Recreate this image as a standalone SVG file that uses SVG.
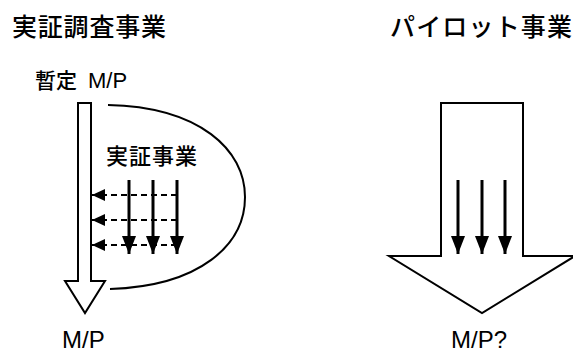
<svg xmlns="http://www.w3.org/2000/svg" width="573" height="352" viewBox="0 0 573 352">
<style>
.t{font-family:"Noto Sans CJK JP","Liberation Sans",sans-serif;fill:#000;font-weight:500}
.l{font-family:"Liberation Sans","Noto Sans CJK JP",sans-serif;fill:#000}
.shape{fill:#fff;stroke:#000;stroke-width:2;stroke-linejoin:miter}
.solid{stroke:#000;stroke-width:3;fill:none}
.dash{stroke:#000;stroke-width:2;stroke-dasharray:6 4;fill:none}
</style>
<defs>
<marker id="hs" markerUnits="userSpaceOnUse" markerWidth="18" markerHeight="14" refX="18" refY="7" orient="auto"><path d="M0,0 L18,7 L0,14 z" fill="#000"/></marker>
<marker id="hd" markerUnits="userSpaceOnUse" markerWidth="13" markerHeight="12" refX="13" refY="6" orient="auto"><path d="M0,0 L13,6 L0,12 z" fill="#000"/></marker>
</defs>
<g id="title-left"><text class="t" x="12" y="36" font-size="25" textLength="154" lengthAdjust="spacing">実証調査事業</text></g>
<g id="title-right"><text class="t" x="390" y="36" font-size="25" textLength="182" lengthAdjust="spacing">パイロット事業</text></g>
<g id="label-provisional"><text class="t" x="35" y="88" font-size="21">暫定</text><text class="l" x="88" y="88" font-size="22">M/P</text></g>
<g id="left-arrow"><path class="shape" d="M78,103 L91,103 L91,281 L105,281 L85,313 L65,281 L78,281 Z"/></g>
<g id="loop"><path d="M108,105 C200,107 245,150 245,197 C245,245 200,286 110,289" fill="none" stroke="#000" stroke-width="2"/></g>
<g id="label-demo"><text class="t" x="106" y="164" font-size="22" textLength="91" lengthAdjust="spacing">実証事業</text></g>
<g id="right-arrow"><path class="shape" d="M441,103 L523,103 L523,256 L575,256 L482,313 L389,256 L441,256 Z"/></g>
<g id="label-mp"><text class="l" x="62" y="348" font-size="24">M/P</text></g>
<g id="label-mpq"><text class="l" x="451" y="348" font-size="24">M/P?</text></g>
<g id="connectors">
<line class="solid" x1="129" y1="180" x2="129" y2="254" marker-end="url(#hs)"/>
<line class="solid" x1="153" y1="180" x2="153" y2="254" marker-end="url(#hs)"/>
<line class="solid" x1="177" y1="180" x2="177" y2="254" marker-end="url(#hs)"/>
<line class="dash" x1="177" y1="195" x2="92" y2="195" marker-end="url(#hd)"/>
<line class="dash" x1="177" y1="220" x2="92" y2="220" marker-end="url(#hd)"/>
<line class="dash" x1="177" y1="245" x2="92" y2="245" marker-end="url(#hd)"/>
<line class="solid" x1="458" y1="180" x2="458" y2="254" marker-end="url(#hs)"/>
<line class="solid" x1="482" y1="180" x2="482" y2="254" marker-end="url(#hs)"/>
<line class="solid" x1="505" y1="180" x2="505" y2="254" marker-end="url(#hs)"/>
</g>
</svg>
